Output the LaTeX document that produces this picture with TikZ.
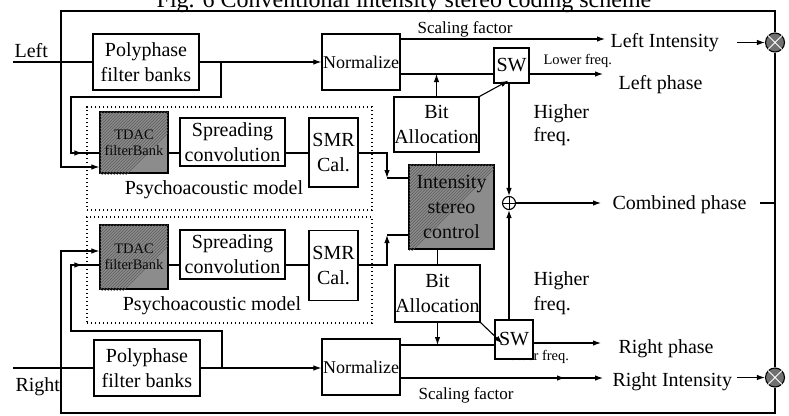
\documentclass[tikz,border=0pt]{standalone}
\usepackage{fontspec}
\setmainfont{Liberation Serif}
\usetikzlibrary{arrows.meta,decorations.markings,calc}
\newcommand{\fsMain}{\fontsize{20}{25}\selectfont}
\newcommand{\fsScale}{\fontsize{17}{20}\selectfont}
\newcommand{\fsFreq}{\fontsize{14.5}{17}\selectfont}
\newcommand{\fsTdac}{\fontsize{14.5}{16}\selectfont}
\newcommand{\fsNorm}{\fontsize{18}{22}\selectfont}
\newcommand{\fsTitle}{\fontsize{24}{28}\selectfont}
\definecolor{shade}{gray}{0.55}
\definecolor{shadedot}{gray}{0.35}
\definecolor{ink}{rgb}{0.04,0.04,0.04}

\begin{document}
\begin{tikzpicture}[x=1pt,y=-1pt,line width=1.1pt,
  arr/.style={-{Latex[length=8pt,width=5.5pt]}},
  blk/.style={draw,line width=1.2pt,fill=white,inner sep=0pt,align=center,font=\fsMain},
  dark/.style={draw,line width=1.2pt,fill=shade,inner sep=0pt,align=center},
  darktext/.style={inner sep=0pt,align=center,text=ink},
  lbl/.style={anchor=base west,inner sep=0pt,font=\fsMain},
  grp/.style={draw,line width=1.4pt,dash pattern=on 1.4pt off 2.6pt,inner sep=0pt},
  midarr/.style={postaction={decorate},decoration={markings,
    mark=at position #1 with {\arrow{Latex[length=8pt,width=5.5pt]}}}},
  mult/.style={circle,draw,line width=1.1pt,minimum size=19pt,inner sep=0pt,fill=shade!80!black},
]
\useasboundingbox (0,0) rectangle (789,415);

% title (upper part falls outside the page)
\node[anchor=base,inner sep=0pt,font=\fsTitle] (title) at (404,8)
  {Fig. 6 Conventional intensity stereo coding scheme};

% row levels
\coordinate (yA) at (0,153);
\coordinate (yB) at (0,167);
\coordinate (yC) at (0,251);
\coordinate (yD) at (0,265);
\coordinate (yE) at (0,74);
\coordinate (yF) at (0,345);

% psychoacoustic model groups
\node[grp,minimum width=285pt,minimum height=103pt] (psyU) at (229.5,158.5) {};
\node[grp,minimum width=285pt,minimum height=106pt] (psyD) at (229.5,270) {};
\node[anchor=base,inner sep=0pt,font=\fsMain] (psyUl) at (214,194) {Psychoacoustic model};
\node[anchor=base,inner sep=0pt,font=\fsMain] (psyDl) at (212,310) {Psychoacoustic model};

% blocks
\node[blk,minimum width=106pt,minimum height=56pt] (polyL) at (146,62) {Polyphase\\filter banks};
\node[blk,minimum width=106pt,minimum height=56pt] (polyR) at (147,368) {Polyphase\\filter banks};
\node[blk,minimum width=78pt,minimum height=56pt,font=\fsNorm] (normL) at (361,62) {Normalize};
\node[blk,minimum width=78pt,minimum height=56pt,font=\fsNorm] (normR) at (361,367) {Normalize};

% shaded blocks with a fine halftone texture
\node[dark,minimum width=68pt,minimum height=61pt] (tdacU) at (134,142.5) {};
\node[dark,minimum width=68pt,minimum height=64pt] (tdacD) at (134,257) {};
\node[dark,minimum width=85pt,minimum height=84pt] (ints) at (451.5,207) {};
\foreach \b in {tdacU,tdacD,ints}{
  \begin{scope}
    \clip ([shift={(0.8,-0.8)}]\b.north west) rectangle ([shift={(-0.8,0.8)}]\b.south east);
    \foreach \i in {0,3,...,90}{
      \draw[shadedot,line width=0.6pt] ([shift={(\i,0)}]\b.north west) -- ++(-90,90);
    }
  \end{scope}
}

\node[blk,minimum width=105pt,minimum height=48pt] (sprU) at (232.5,142) {Spreading\\convolution};
\node[blk,minimum width=105pt,minimum height=49pt] (sprD) at (232.5,254.5) {Spreading\\convolution};
\node[blk,minimum width=49pt,minimum height=69pt] (smrU) at (333.5,152.5) {SMR\\Cal.};
\node[blk,minimum width=49pt,minimum height=70pt] (smrD) at (333.5,265.5) {SMR\\Cal.};

\node[blk,minimum width=85pt,minimum height=55pt] (baU) at (436.5,124.5) {Bit\\Allocation};
\node[blk,minimum width=85pt,minimum height=57pt] (baD) at (437.5,293.5) {Bit\\Allocation};

\node[blk,minimum width=35pt,minimum height=35pt] (swU) at (511.5,65.5) {SW};
\node[lbl,font=\fsFreq] (lfD) at (500,360) {Lower freq.};
\node[blk,minimum width=38pt,minimum height=39pt] (swD) at (514,339.5) {SW};

\node[circle,draw,line width=1.1pt,minimum size=13pt,inner sep=0pt] (plus) at (509,203) {};
\draw[line width=1pt] (plus.north) -- (plus.south) (plus.west) -- (plus.east);

\node[mult] (multL) at (775,42.5) {};
\node[mult] (multR) at (775,377.5) {};
\draw[white,line width=0.9pt] (multL.45) -- (multL.225) (multL.135) -- (multL.315);
\draw[white,line width=0.9pt] (multR.45) -- (multR.225) (multR.135) -- (multR.315);

% labels
\node[lbl] (tLeft) at (14,57) {Left};
\node[lbl] (tRight) at (15,391) {Right};
\node[lbl,font=\fsScale] (sfLl) at (417,33) {Scaling factor};
\node[lbl,font=\fsScale] (sfRl) at (418,399) {Scaling factor};
\node[lbl] (tLI) at (610,47) {Left Intensity};
\node[lbl] (tRI) at (612,386) {Right Intensity};
\node[lbl,font=\fsFreq] (lfU) at (543,64) {Lower freq.};
\node[lbl] (tLP) at (618,89) {Left phase};
\node[lbl] (tRP) at (618,353) {Right phase};
\node[lbl] (tCP) at (612,209) {Combined phase};
\node[lbl] (hU1) at (533,118) {Higher};
\node[lbl] (hU2) at (533,141) {freq.};
\node[lbl] (hD1) at (533,285) {Higher};
\node[lbl] (hD2) at (533,310) {freq.};

% captions of the shaded blocks
\node[darktext,font=\fsTdac] (tdacUt) at (tdacU.center) {TDAC\\filterBank};
\node[darktext,font=\fsTdac] (tdacDt) at (tdacD.center) {TDAC\\filterBank};
\node[darktext,font=\fsMain] (intst) at (ints.center) {Intensity\\stereo\\control};

% inputs and analysis paths
\coordinate (inL) at (13,62);
\coordinate (inR) at (13,368);
\draw (inL) -- (polyL.west);
\draw (inR) -- (polyR.west);
\draw[arr] (polyL.east) -- (normL.west |- polyL.east);
\draw[arr] (polyR.east) -- (normR.west |- polyR.east);
\coordinate (tapL) at (221,62);
\coordinate (bendL) at (71,97);
\coordinate (tapR) at (222,368);
\coordinate (bendR) at (71,331);
\draw[midarr=-17pt] (tapL) |- (bendL) |- (tdacU.west |- yA);
\draw[midarr=-17pt] (tapR) |- (bendR) |- (tdacD.west |- yD);

% psychoacoustic chains
\draw (tdacU.east |- yA) -- (sprU.west |- yA);
\draw (sprU.east |- yA) -- (smrU.west |- yA);
\draw (tdacD.east |- yD) -- (sprD.west |- yD);
\draw (sprD.east |- yD) -- (smrD.west |- yD);
\coordinate (kU) at (387,178);
\coordinate (kD) at (387,235);
\draw[arr] (smrU.east |- yA) -| (kU);
\draw (kU) -- (ints.west |- kU);
\draw[arr] (smrD.east |- yD) -| (kD);
\draw (kD) -- (ints.west |- kD);

% bit allocation and switches
\draw (baU.south) -- (baU.south |- ints.north);
\draw (baD.north) -- (baD.north |- ints.south);
\draw (normL.east |- yE) -- (swU.west |- yE);
\draw (normR.east |- yF) -- (swD.west |- yF);
\draw[arr] (baU.north) -- (baU.north |- yE);
\draw[arr] (baD.south) -- (baD.south |- yF);
\draw[arr] (baU.north east) -- ($(swU.south)+(-3,-3)$);
\draw[arr] (baD.south east) -- ($(swD.west)+(8,4)$);
\draw[arr] (swU.south -| plus) -- (plus.north);
\draw[arr] (swD.north -| plus) -- (plus.south);

% outputs
\coordinate (sfL) at (605,39);
\coordinate (sfR) at (603,378);
\coordinate (lpEnd) at (603,74);
\coordinate (rpEnd) at (601,343);
\coordinate (cpArr) at (601,203);
\draw[arr] (normL.east |- sfL) -- (sfL);
\draw[arr,midarr=-38pt] (normR.east |- sfR) -- (sfR);
\draw[arr] (swU.east |- lpEnd) -- (lpEnd);
\draw[arr] (swD.east |- rpEnd) -- (rpEnd);
\draw[arr] (plus.east) -- (cpArr);
\coordinate (liEnd) at (737,42.5);
\coordinate (riEnd) at (737,377.5);
\draw[arr] (liEnd) -- (multL.west);
\draw[arr] (riEnd) -- (multR.west);

% feedback frame
\coordinate (fTL) at (61,11);
\coordinate (fBL) at (61,413);
\coordinate (cpEnd) at (760,203);
\draw[arr] (multL.north) |- (fTL) |- (tdacU.west |- yB);
\draw[arr] (multR.south) |- (fBL) |- (tdacD.west |- yC);
\draw (multL.south) -- (multR.north);
\draw (cpEnd) -- (cpEnd -| multL);
\end{tikzpicture}
\end{document}
